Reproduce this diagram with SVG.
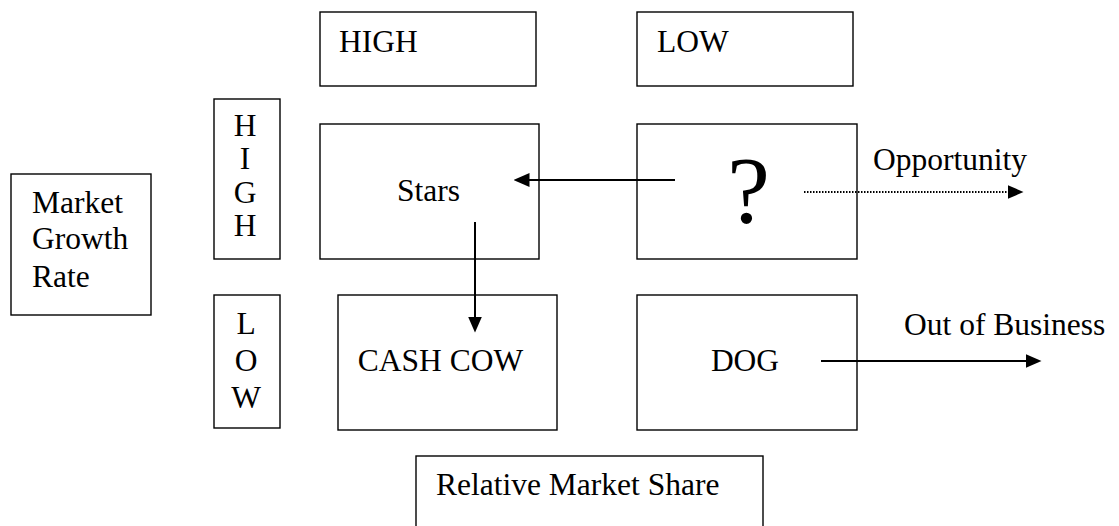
<svg xmlns="http://www.w3.org/2000/svg" width="1119" height="526" viewBox="0 0 1119 526">
<style>
.box{fill:#fff;stroke:#000;stroke-width:1.4}
.t{font-family:"Liberation Serif","Times New Roman",serif;font-size:31.5px;fill:#000}
.c{text-anchor:middle}
.ln{stroke:#000;stroke-width:2;fill:none}
.dot{stroke:#000;stroke-width:2;fill:none;stroke-dasharray:1.5 1.5}
</style>
<defs>
<marker id="ah" viewBox="0 0 16 14" refX="0.5" refY="7" markerWidth="16" markerHeight="14" markerUnits="userSpaceOnUse" orient="auto">
<path d="M0,0 L16,7 L0,14 Z" fill="#000"/>
</marker>
</defs>
<rect width="1119" height="526" fill="#fff"/>
<g id="hdr-high"><rect class="box" x="320" y="12" width="216" height="74"/><text class="t" x="339" y="52">HIGH</text></g>
<g id="hdr-low"><rect class="box" x="637" y="12" width="216" height="74"/><text class="t" x="657" y="52">LOW</text></g>
<g id="side-high"><rect class="box" x="214" y="99" width="66" height="160"/>
<text class="t c" x="245" y="136">H</text><text class="t c" x="245" y="169">I</text><text class="t c" x="245" y="203">G</text><text class="t c" x="245" y="236">H</text></g>
<g id="side-low"><rect class="box" x="214" y="295" width="66" height="133"/>
<text class="t c" x="246" y="334">L</text><text class="t c" x="246" y="371">O</text><text class="t c" x="246" y="408">W</text></g>
<g id="growth"><rect class="box" x="11" y="174" width="140" height="141"/>
<text class="t" x="32" y="213">Market</text><text class="t" x="32" y="249">Growth</text><text class="t" x="32" y="287">Rate</text></g>
<g id="stars"><rect class="box" x="320" y="124" width="219" height="135"/><text class="t c" x="428.5" y="201">Stars</text></g>
<g id="question"><rect class="box" x="637" y="124" width="220" height="135"/><text class="t c" x="748.5" y="223" style="font-size:96px">?</text></g>
<g id="cashcow"><rect class="box" x="338" y="295" width="219" height="135"/><text class="t c" x="440.5" y="371">CASH COW</text></g>
<g id="dog"><rect class="box" x="637" y="295" width="220" height="135"/><text class="t c" x="745" y="371">DOG</text></g>
<g id="share"><rect class="box" x="416" y="456" width="347" height="100"/><text class="t" x="436" y="495">Relative Market Share</text></g>
<g id="lbl-opp"><text class="t" x="873" y="170">Opportunity</text></g>
<g id="lbl-out"><text class="t" x="904" y="335">Out of Business</text></g>
<g id="connectors">
<line class="ln" x1="675" y1="180" x2="529" y2="180" marker-end="url(#ah)"/>
<line class="ln" x1="475" y1="222" x2="475" y2="317" marker-end="url(#ah)"/>
<line class="dot" x1="804" y1="192" x2="1008" y2="192" marker-end="url(#ah)"/>
<line class="ln" x1="821" y1="361" x2="1026" y2="361" marker-end="url(#ah)"/>
</g>
</svg>
